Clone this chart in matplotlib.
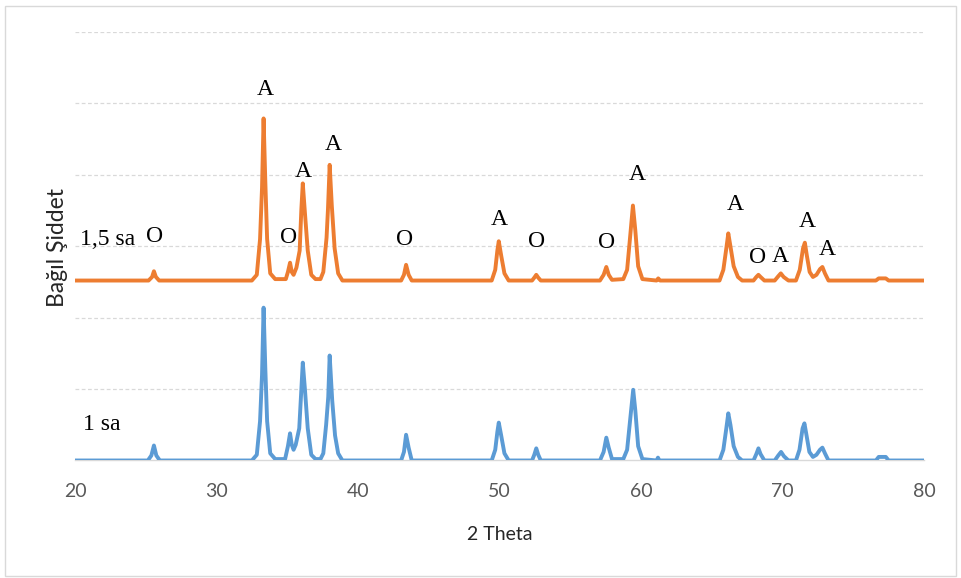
import matplotlib
matplotlib.use("Agg")
import matplotlib.pyplot as plt
from matplotlib.patches import Rectangle

# XRD patterns: (2-theta, relative intensity) points
two_theta_1h = [20.00, 25.15, 25.40, 25.58, 25.75, 26.00, 32.50, 32.85, 33.08, 33.22,
                33.33, 33.45, 33.58, 33.80, 34.15, 34.85, 35.05, 35.20, 35.32, 35.45,
                35.60, 35.85, 36.00, 36.10, 36.25, 36.45, 36.70, 37.00, 37.35, 37.55,
                37.75, 37.90, 38.00, 38.18, 38.38, 38.60, 38.90, 43.05, 43.25, 43.40,
                43.58, 43.80, 49.45, 49.70, 49.85, 49.95, 50.12, 50.35, 50.65, 52.30,
                52.46, 52.60, 52.74, 52.92, 57.10, 57.36, 57.55, 57.72, 57.95, 58.75,
                59.02, 59.25, 59.45, 59.60, 59.80, 60.10, 61.10, 61.20, 61.30, 65.55,
                65.82, 66.03, 66.17, 66.32, 66.55, 66.85, 67.15, 67.95, 68.15, 68.30,
                68.45, 68.72, 69.45, 69.70, 69.90, 70.10, 70.42, 70.95, 71.20, 71.42,
                71.55, 71.70, 71.90, 72.15, 72.40, 72.65, 72.82, 73.00, 73.25, 76.60,
                76.80, 77.30, 77.50, 80.00]
intensity_1h = [0.00, 0.00, 0.07, 0.21, 0.07, 0.00, 0.00, 0.08, 0.55, 1.20,
                2.14, 1.30, 0.55, 0.10, 0.02, 0.02, 0.20, 0.38, 0.22, 0.15,
                0.22, 0.45, 1.00, 1.37, 1.00, 0.45, 0.08, 0.02, 0.02, 0.10,
                0.50, 0.89, 1.47, 0.84, 0.35, 0.10, 0.00, 0.00, 0.12, 0.36,
                0.18, 0.00, 0.00, 0.15, 0.40, 0.53, 0.35, 0.10, 0.00, 0.00,
                0.08, 0.17, 0.08, 0.00, 0.00, 0.12, 0.32, 0.18, 0.02, 0.02,
                0.15, 0.60, 0.99, 0.70, 0.20, 0.02, 0.00, 0.04, 0.00, 0.00,
                0.15, 0.45, 0.66, 0.50, 0.20, 0.05, 0.00, 0.00, 0.09, 0.17,
                0.09, 0.00, 0.00, 0.07, 0.12, 0.06, 0.00, 0.00, 0.15, 0.45,
                0.52, 0.35, 0.12, 0.05, 0.08, 0.15, 0.18, 0.10, 0.00, 0.00,
                0.05, 0.05, 0.00, 0.00]

two_theta_15h = [20.00, 25.20, 25.45, 25.58, 25.72, 25.95, 32.50, 32.85, 33.08, 33.22,
                 33.33, 33.45, 33.58, 33.80, 34.15, 34.90, 35.05, 35.20, 35.32, 35.45,
                 35.65, 35.88, 36.00, 36.10, 36.25, 36.45, 36.70, 37.00, 37.35, 37.55,
                 37.78, 37.88, 38.00, 38.15, 38.35, 38.60, 38.90, 43.05, 43.25, 43.40,
                 43.58, 43.80, 49.45, 49.70, 49.85, 49.95, 50.12, 50.35, 50.65, 52.30,
                 52.46, 52.60, 52.74, 52.92, 57.10, 57.36, 57.55, 57.72, 57.95, 58.75,
                 59.02, 59.25, 59.43, 59.60, 59.80, 60.10, 61.10, 61.22, 61.35, 65.55,
                 65.82, 66.03, 66.17, 66.32, 66.55, 66.85, 67.15, 67.95, 68.15, 68.30,
                 68.45, 68.72, 69.45, 69.70, 69.88, 70.08, 70.42, 70.95, 71.22, 71.45,
                 71.58, 71.72, 71.92, 72.15, 72.40, 72.65, 72.82, 73.00, 73.25, 76.60,
                 76.80, 77.30, 77.50, 80.00]
intensity_15h = [0.00, 0.00, 0.05, 0.13, 0.05, 0.00, 0.00, 0.08, 0.58, 1.30,
                 2.27, 1.40, 0.58, 0.10, 0.02, 0.02, 0.12, 0.25, 0.12, 0.08,
                 0.18, 0.42, 1.00, 1.36, 0.95, 0.42, 0.08, 0.02, 0.02, 0.12,
                 0.60, 1.00, 1.62, 1.05, 0.45, 0.10, 0.00, 0.00, 0.08, 0.22,
                 0.08, 0.00, 0.00, 0.15, 0.42, 0.55, 0.35, 0.10, 0.00, 0.00,
                 0.04, 0.08, 0.04, 0.00, 0.00, 0.08, 0.19, 0.08, 0.01, 0.02,
                 0.15, 0.65, 1.05, 0.70, 0.20, 0.02, 0.00, 0.03, 0.00, 0.00,
                 0.15, 0.45, 0.66, 0.48, 0.20, 0.05, 0.00, 0.00, 0.05, 0.08,
                 0.05, 0.00, 0.00, 0.06, 0.10, 0.05, 0.00, 0.00, 0.15, 0.45,
                 0.53, 0.35, 0.12, 0.05, 0.08, 0.16, 0.19, 0.10, 0.00, 0.00,
                 0.03, 0.03, 0.00, 0.00]

offset_15h = 2.52

x_ticks = [20, 30, 40, 50, 60, 70, 80]

# Phase labels (A / O) above the 1,5 sa pattern
phase_labels = ["O", "A", "O", "A", "A", "O", "A", "O", "O", "A", "A", "O", "A", "A", "A"]
phase_x = [25.65, 33.43, 35.12, 36.11, 38.23, 43.32, 49.96, 52.65, 57.60, 59.72,
           66.63, 68.27, 69.82, 71.73, 73.14]
phase_y = [3.13, 5.20, 3.12, 4.05, 4.43, 3.10, 3.38, 3.06, 3.05, 4.00,
           3.59, 2.84, 2.86, 3.34, 2.96]

series_names = ["1 sa", "1,5 sa"]

ORANGE = "#ED7D31"
BLUE = "#5B9BD5"
GRID = "#D9D9D9"
TEXT = "#595959"

fig = plt.figure(figsize=(9.61, 5.78), dpi=100)
ax = fig.add_axes([0.078, 0.2033, 0.8835, 0.7413])

ax.plot(two_theta_1h, intensity_1h, color=BLUE, lw=2.8, solid_joinstyle="round",
        solid_capstyle="round", zorder=3)
ax.plot(two_theta_15h, [v + offset_15h for v in intensity_15h], color=ORANGE, lw=2.8,
        solid_joinstyle="round", solid_capstyle="round", zorder=3)

ax.set_xlim(20, 80)
ax.set_ylim(0, 6)
ax.set_xticks(x_ticks)
ax.set_yticks([1, 2, 3, 4, 5, 6])
ax.yaxis.grid(True, color=GRID, lw=0.9, linestyle=(0, (3, 2)))
ax.set_axisbelow(True)
ax.tick_params(axis="y", left=False, labelleft=False)
ax.tick_params(axis="x", length=0, pad=16, labelsize=14, labelcolor=TEXT)
for lab in ax.get_xticklabels():
    lab.set_fontfamily("Lato")
for side in ["left", "right", "top"]:
    ax.spines[side].set_visible(False)
ax.spines["bottom"].set_color(GRID)
ax.spines["bottom"].set_linewidth(1.0)

ax.set_xlabel("2 Theta", fontsize=14, color="#262626", family="Lato", labelpad=19)
fig.text(0.060, 0.572, "Bağıl Şiddet", rotation=90, fontsize=16.5, color="#262626",
         family="Lato", ha="center", va="center")

serif = "Liberation Serif"
for t, x, y in zip(phase_labels, phase_x, phase_y):
    ax.text(x, y, t, fontsize=17, family=serif, ha="center", va="center", color="black")
ax.text(20.35, 3.10, series_names[1], fontsize=17, family=serif, ha="left", va="center")
ax.text(20.57, 0.51, series_names[0], fontsize=17, family=serif, ha="left", va="center")

fig.patches.append(Rectangle((0.005, 0.004), 0.99, 0.985, transform=fig.transFigure,
                             fill=False, edgecolor="#D9D9D9", lw=1.0))

fig.savefig("out.png", dpi=100)
